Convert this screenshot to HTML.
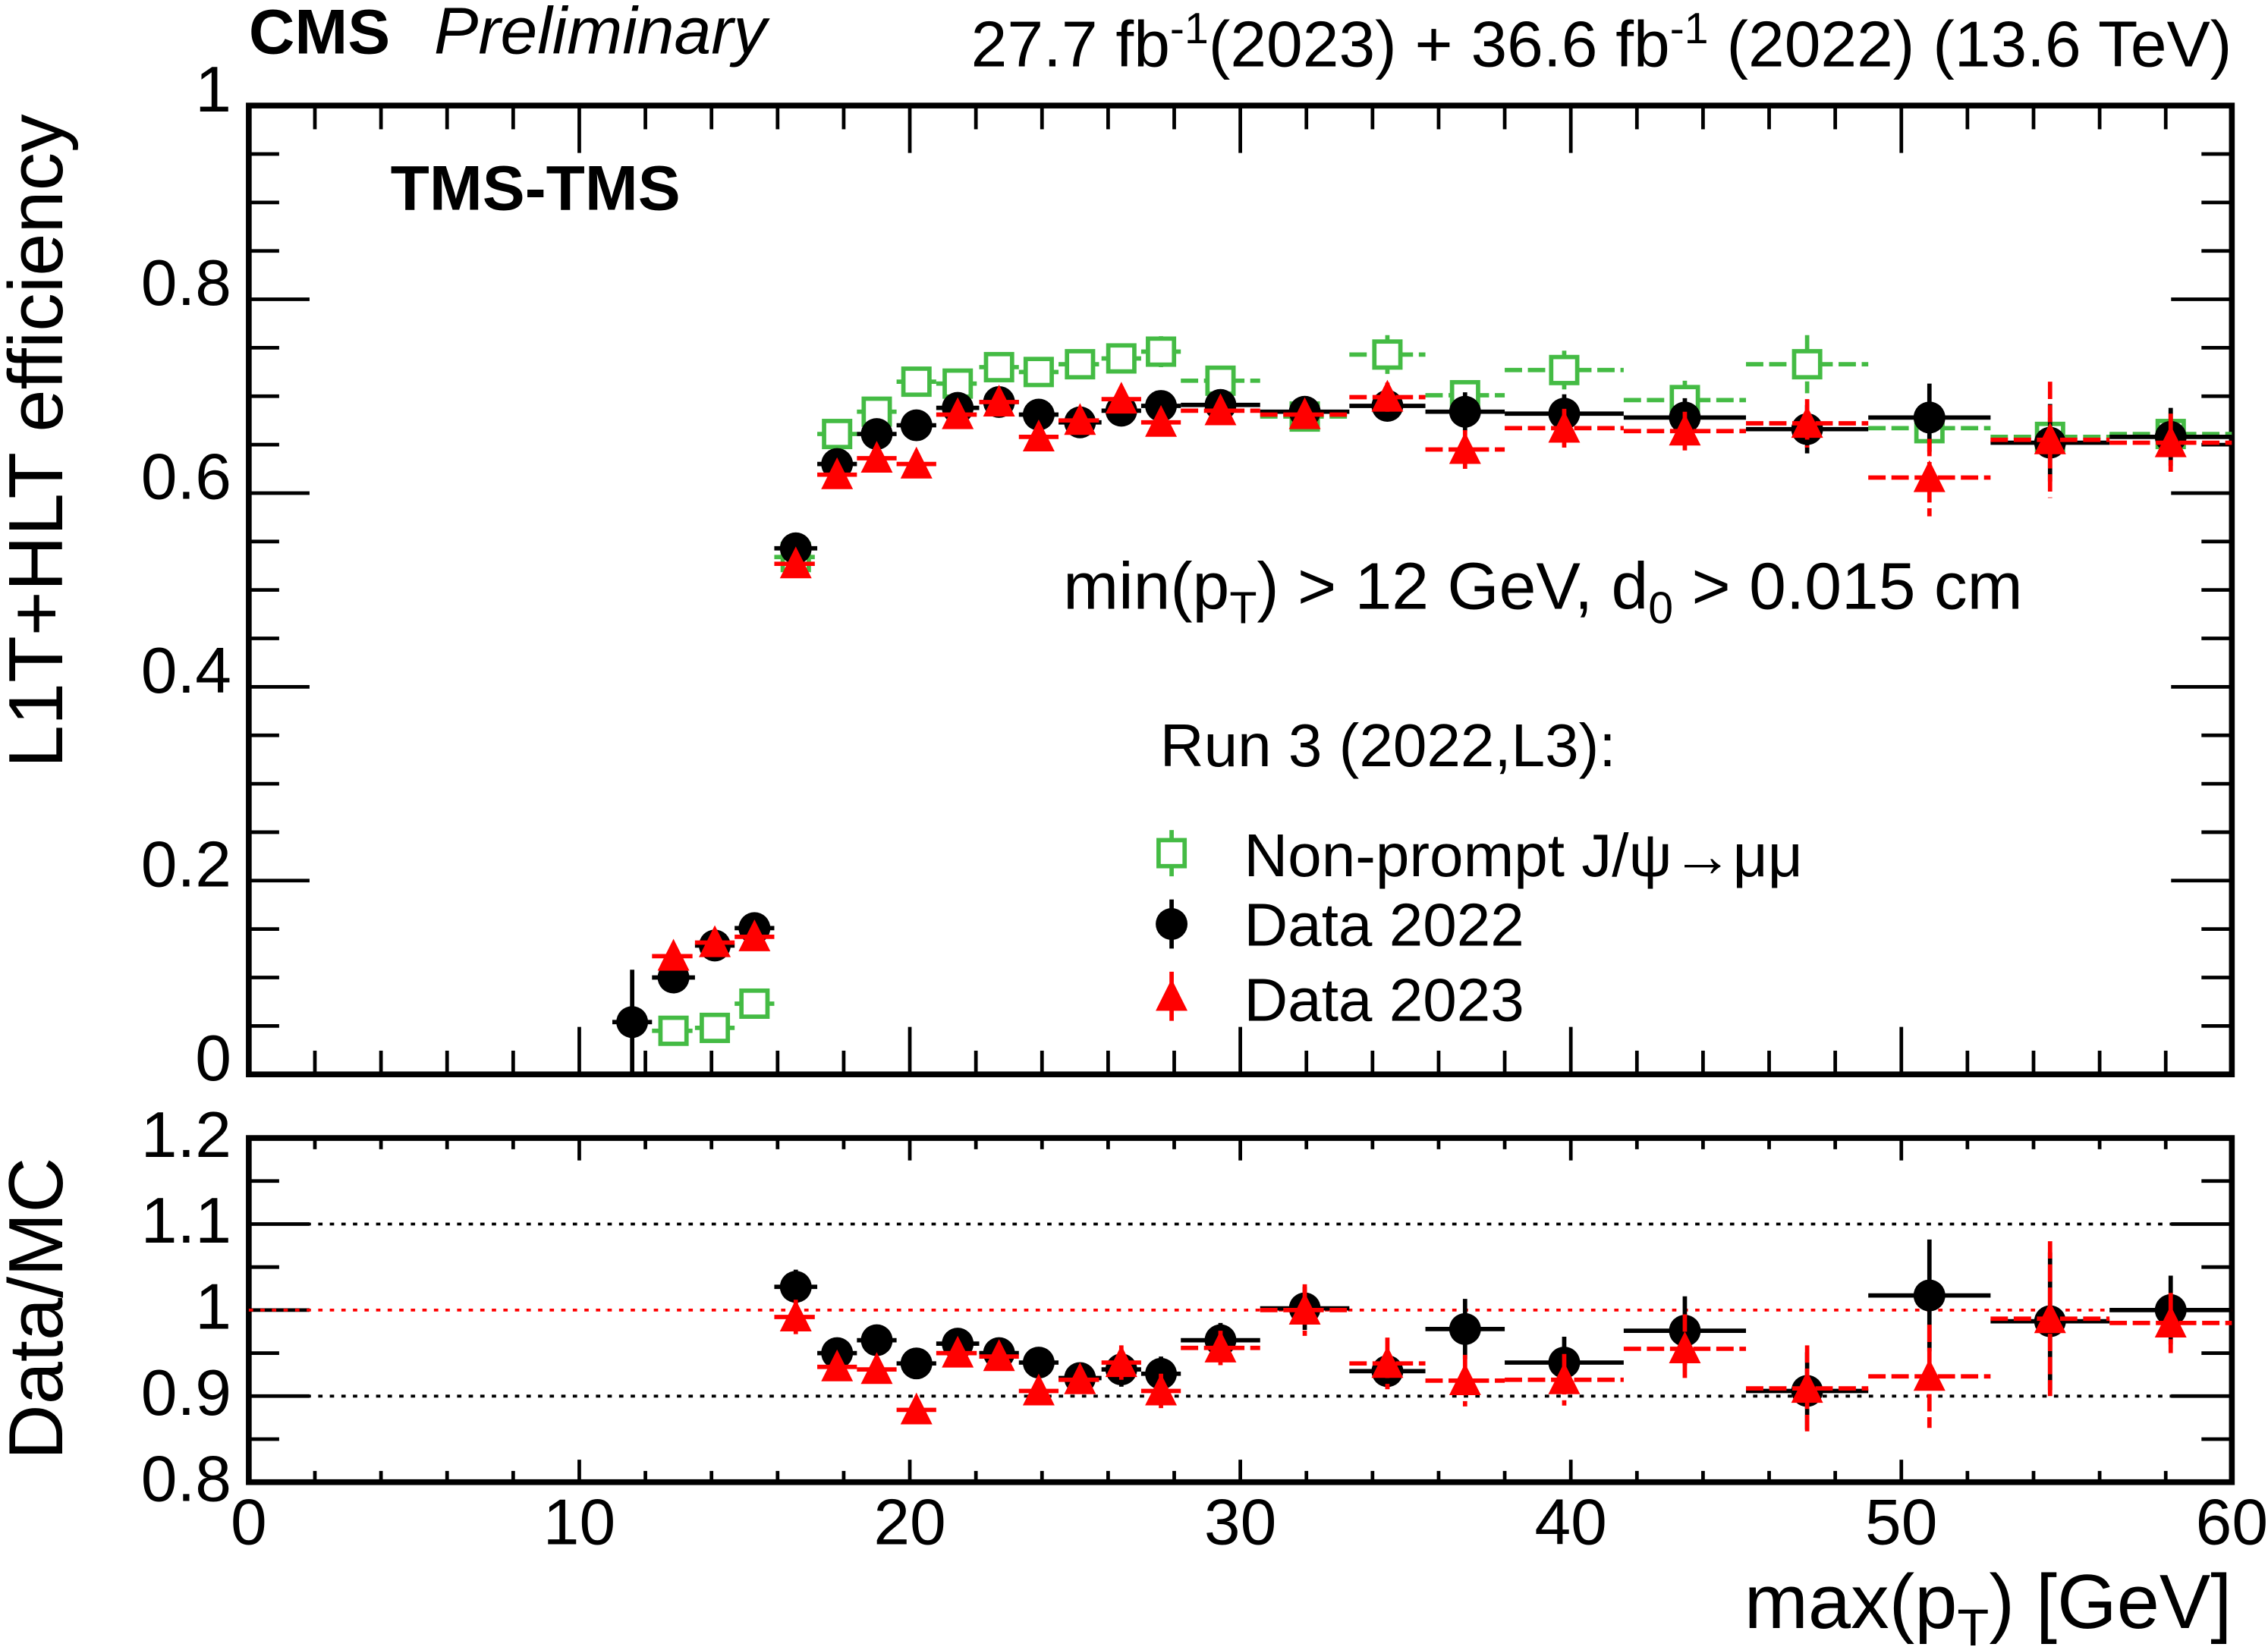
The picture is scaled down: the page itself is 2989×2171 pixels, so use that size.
<!DOCTYPE html>
<html><head><meta charset="utf-8"><style>
html,body{margin:0;padding:0;background:#fff}
svg{display:block}
text{font-family:"Liberation Sans",Arial,sans-serif;fill:#000}
</style></head><body>
<svg id="c" width="2989" height="2171" viewBox="0 0 1568 1139" preserveAspectRatio="none" xmlns="http://www.w3.org/2000/svg">
<g id="frame"></g>
<g id="marks"></g>
<text x="172" y="37" font-size="44" font-weight="bold">CMS</text>
<text x="300" y="37" font-size="46" font-style="italic">Preliminary</text>
<text x="1543" y="46" font-size="45" text-anchor="end">27.7 fb<tspan dy="-16" font-size="30">-1</tspan><tspan dy="16">(2023) + 36.6 fb</tspan><tspan dy="-16" font-size="30">-1</tspan><tspan dy="16"> (2022) (13.6 TeV)</tspan></text>
<text x="270" y="145" font-size="44" font-weight="bold">TMS-TMS</text>
<text transform="translate(43,305) rotate(-90)" font-size="53" text-anchor="middle">L1T+HLT efficiency</text>
<text transform="translate(43,905) rotate(-90)" font-size="53" text-anchor="middle">Data/MC</text>
<text x="1543" y="1126" font-size="53" text-anchor="end">max(p<tspan font-size="36" dy="12">T</tspan><tspan dy="-12">) [GeV]</tspan></text>
<text x="735" y="421" font-size="46">min(p<tspan font-size="31" dy="10">T</tspan><tspan dy="-10">) &gt; 12 GeV, d</tspan><tspan font-size="31" dy="10">0</tspan><tspan dy="-10"> &gt; 0.015 cm</tspan></text>
<text x="802" y="530" font-size="42">Run 3 (2022,L3):</text>
<g>
<line x1="810" y1="574" x2="810" y2="606" stroke="#44bb44" stroke-width="3"/>
<rect x="801" y="581" width="18" height="18" fill="#fff" stroke="#44bb44" stroke-width="3"/>
<text x="860" y="606" font-size="42">Non-prompt J/ψ→μμ</text></g>
<g>
<line x1="810" y1="622" x2="810" y2="656" stroke="#000" stroke-width="3"/>
<circle cx="810" cy="639" r="11" fill="#000"/>
<text x="860" y="654" font-size="42">Data 2022</text></g>
<g>
<line x1="810" y1="672" x2="810" y2="706" stroke="#f00" stroke-width="3"/>
<polygon points="810,677 821,699 799,699" fill="#f00"/>
<text x="860" y="706" font-size="42">Data 2023</text></g>
</svg>
<script>
const edges=[11,12.2,13.5,14.7,15.9,17.2,18.4,19.6,20.8,22.1,23.3,24.5,25.8,27,28.2,30.6,33.3,35.6,38,41.6,45.3,49,52.7,56.3,60];
const eff2022=[0.054,0.100,0.133,0.151,0.543,0.630,0.661,0.670,0.688,0.694,0.681,0.673,0.685,0.690,0.691,0.684,0.690,0.684,0.682,0.678,0.666,0.678,0.652,0.658];
const err2022=[0.054,0.012,0.01,0.01,0.012,0.01,0.01,0.01,0.01,0.01,0.01,0.01,0.01,0.01,0.012,0.012,0.012,0.02,0.02,0.02,0.025,0.035,0.04,0.03];
const eff2023=[null,0.122,0.136,0.142,0.527,0.619,0.636,0.630,0.681,0.694,0.658,0.675,0.697,0.673,0.685,0.681,0.699,0.645,0.667,0.664,0.672,0.616,0.655,0.652];
const err2023=[0,0.012,0.01,0.01,0.012,0.01,0.01,0.01,0.01,0.01,0.01,0.01,0.01,0.01,0.012,0.012,0.015,0.02,0.02,0.02,0.025,0.04,0.06,0.03];
const effMC=[null,0.045,0.048,0.073,0.534,0.661,0.684,0.715,0.713,0.730,0.725,0.733,0.739,0.746,0.716,0.679,0.743,0.701,0.727,0.696,0.733,0.667,0.658,0.661];
const errMC=[0,0.006,0.006,0.008,0.01,0.01,0.012,0.012,0.012,0.012,0.012,0.012,0.014,0.016,0.012,0.012,0.02,0.015,0.02,0.02,0.03,0.025,0.02,0.025];
const ratio2022=[null,null,null,null,1.027,0.950,0.965,0.938,0.961,0.950,0.939,0.921,0.931,0.926,0.965,1.002,0.929,0.978,0.939,0.976,0.906,1.017,0.987,1.0];
const rerr2022=[0,0,0,0,0.02,0.015,0.015,0.015,0.015,0.015,0.015,0.015,0.02,0.02,0.02,0.025,0.02,0.035,0.03,0.04,0.045,0.065,0.08,0.04];
const ratio2023=[null,null,null,null,0.992,0.934,0.931,0.884,0.950,0.946,0.906,0.919,0.939,0.906,0.956,1.0,0.938,0.918,0.919,0.955,0.909,0.923,0.99,0.985];
const rerr2023=[0,0,0,0,0.02,0.015,0.015,0.015,0.015,0.015,0.015,0.015,0.02,0.02,0.02,0.03,0.03,0.03,0.03,0.04,0.05,0.06,0.09,0.035];
const yTicksTop=["0","0.2","0.4","0.6","0.8","1"];
const yTicksRatio=["0.8","0.9","1","1.1","1.2"];
const xTicks=["0","10","20","30","40","50","60"];

const NS="http://www.w3.org/2000/svg";
const L=172,R=1543,T1=73,B1=743,T2=787,B2=1025;
const X=v=>L+(R-L)*v/60;
const Y1=v=>B1-(B1-T1)*v;
const Y2=v=>B2-(B2-T2)*(v-0.8)/0.4;
const frame=document.getElementById('frame'),marks=document.getElementById('marks');
function mk(tag,attrs,parent){const e=document.createElementNS(NS,tag);for(const k in attrs)e.setAttribute(k,attrs[k]);parent.appendChild(e);return e;}

const f1=mk('rect',{x:L,y:T1,width:R-L,height:B1-T1,fill:'none',stroke:'#000','stroke-width':4},frame);


const f2=mk('rect',{x:L,y:T2,width:R-L,height:B2-T2,fill:'none',stroke:'#000','stroke-width':4},frame);


for(let v=0;v<=60;v+=2){const maj=v%10===0;const x=X(v);
 for(const [t,b] of [[T1,B1],[T2,B2]]){const h=(b-t)*(maj?0.04:0.02)+ (maj?6:3);
  mk('line',{x1:x,y1:b,x2:x,y2:b-h,stroke:'#000','stroke-width':2.5},frame);
  mk('line',{x1:x,y1:t,x2:x,y2:t+h,stroke:'#000','stroke-width':2.5},frame);}
}
xTicks.forEach((s,i)=>{const t=mk('text',{x:X(i*10),y:1068,'font-size':45,'text-anchor':'middle'},frame);t.textContent=s;
 
 });
for(let i=0;i<=20;i++){const v=i*0.05;const maj=i%4===0;const y=Y1(v);const w=maj?42:21;
 mk('line',{x1:L,y1:y,x2:L+w,y2:y,stroke:'#000','stroke-width':2.5},frame);
 mk('line',{x1:R,y1:y,x2:R-w,y2:y,stroke:'#000','stroke-width':2.5},frame);}
yTicksTop.forEach((s,i)=>{const t=mk('text',{x:160,y:Y1(i*0.2)+4,'font-size':45,'text-anchor':'end'},frame);t.textContent=s;
 
 });
for(let i=0;i<=8;i++){const v=0.8+i*0.05;const maj=i%2===0;const y=Y2(v);const w=maj?42:21;
 mk('line',{x1:L,y1:y,x2:L+w,y2:y,stroke:'#000','stroke-width':2.5},frame);
 mk('line',{x1:R,y1:y,x2:R-w,y2:y,stroke:'#000','stroke-width':2.5},frame);}
yTicksRatio.forEach((s,i)=>{const t=mk('text',{x:160,y:Y2(0.8+i*0.1)+13,'font-size':45,'text-anchor':'end'},frame);t.textContent=s;
 
 });
[[1.1,'#000'],[0.9,'#000'],[1.0,'#f00']].forEach(([v,c])=>{const l=mk('line',{x1:L,y1:Y2(v),x2:R,y2:Y2(v),stroke:c,'stroke-width':2,'stroke-dasharray':'3,5'},frame);
 
 });

function series(vals,errs,Y,color,shape,dash,name){
 vals.forEach((v,i)=>{if(v===null)return;
  const g=mk('g',{},marks);
  
  
  const x=X((edges[i]+edges[i+1])/2),y=Y(v);
  const a={stroke:color,'stroke-width':3};if(dash)a['stroke-dasharray']=dash;
  mk('line',Object.assign({x1:X(edges[i]),y1:y,x2:X(edges[i+1]),y2:y},a),g);
  mk('line',Object.assign({x1:x,y1:Y(v+errs[i]),x2:x,y2:Y(v-errs[i])},a),g);
  if(shape==='c')mk('circle',{cx:x,cy:y,r:11,fill:color},g);
  else if(shape==='t')mk('polygon',{points:`${x},${y-12} ${x+11},${y+10} ${x-11},${y+10}`,fill:color},g);
  else mk('rect',{x:x-9,y:y-9,width:18,height:18,fill:'#fff',stroke:color,'stroke-width':3},g);
 });
}
series(effMC,errMC,Y1,'#44bb44','s','12,4','mc-point');
series(eff2022,err2022,Y1,'#000','c',null,'data-2022-point');
series(eff2023,err2023,Y1,'#f00','t','12,4','data-2023-point');
series(ratio2022,rerr2022,Y2,'#000','c',null,'ratio-2022-point');
series(ratio2023,rerr2023,Y2,'#f00','t','12,4','ratio-2023-point');
</script>
</body></html>
